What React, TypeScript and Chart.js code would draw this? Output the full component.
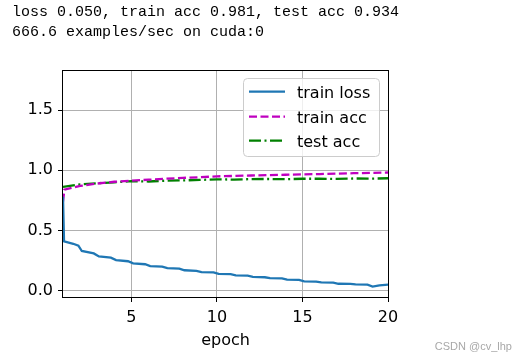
import React, { useEffect, useRef } from "react";
import { Chart, registerables } from "chart.js";

Chart.register(...registerables);

const headerLines = [
  "loss 0.050, train acc 0.981, test acc 0.934",
  "666.6 examples/sec on cuda:0",
];
const watermark = "CSDN @cv_lhp";
const xAxisTitle = "epoch";
const xTicks = [5, 10, 15, 20];
const yTicks = [0, 0.5, 1.0, 1.5];
const seriesLabels = ["train loss", "train acc", "test acc"];

const lossEpochs = [
  1.0, 1.06, 1.6, 1.9, 2.1, 2.8, 3.1, 3.8, 4.1, 4.8, 5.1, 5.8, 6.1, 6.8, 7.1, 7.8,
  8.1, 8.8, 9.1, 9.8, 10.1, 10.8, 11.1, 11.8, 12.1, 12.8, 13.1, 13.8, 14.1, 14.8,
  15.1, 15.8, 16.1, 16.8, 17.1, 17.8, 18.1, 18.8, 19.1, 19.5, 20.0,
];
const lossValues = [
  0.78, 0.41, 0.39, 0.375, 0.33, 0.31, 0.285, 0.275, 0.255, 0.245, 0.228, 0.22,
  0.205, 0.2, 0.188, 0.183, 0.17, 0.165, 0.155, 0.152, 0.14, 0.138, 0.128, 0.125,
  0.115, 0.112, 0.104, 0.102, 0.092, 0.09, 0.078, 0.076, 0.07, 0.068, 0.058, 0.057,
  0.052, 0.05, 0.035, 0.044, 0.05,
];

const trainAccEpochs = [
  1.0, 1.08, 2, 3, 4, 5, 6, 7, 8, 9, 10, 11, 12, 13, 14, 15, 16, 17, 18, 19, 20,
];
const trainAccValues = [
  0.74, 0.84, 0.87, 0.89, 0.905, 0.914, 0.922, 0.93, 0.937, 0.943, 0.95, 0.953,
  0.957, 0.96, 0.963, 0.966, 0.969, 0.972, 0.976, 0.979, 0.982,
];

const testAccEpochs = [
  1, 2, 3, 4, 5, 6, 7, 8, 9, 10, 11, 12, 13, 14, 15, 16, 17, 18, 19, 20,
];
const testAccValues = [
  0.862, 0.884, 0.893, 0.9, 0.91, 0.907, 0.914, 0.916, 0.92, 0.925, 0.923, 0.927,
  0.928, 0.926, 0.93, 0.93, 0.929, 0.932, 0.931, 0.934,
];

const FONT = "'DejaVu Sans', sans-serif";
const LW = 2.3;

const toPoints = (xs: number[], ys: number[]) => xs.map((x, i) => ({ x, y: ys[i] }));

const framePlugin = {
  id: "mplFrame",
  afterDraw(chart: any) {
    const ctx = chart.ctx as CanvasRenderingContext2D;
    const { left, right, top, bottom } = chart.chartArea;
    ctx.save();
    ctx.strokeStyle = "#000";
    ctx.lineWidth = 1;
    ctx.strokeRect(Math.round(left) - 0.5, Math.round(top) + 0.5, Math.round(right - left) + 1, Math.round(bottom - top));

    const bx = right - 144.5;
    const by = top + 8.5;
    const bw = 136;
    const bh = 78;
    ctx.beginPath();
    if ((ctx as any).roundRect) {
      (ctx as any).roundRect(bx, by, bw, bh, 4);
    } else {
      ctx.rect(bx, by, bw, bh);
    }
    ctx.fillStyle = "rgba(255,255,255,0.8)";
    ctx.fill();
    ctx.strokeStyle = "#cccccc";
    ctx.lineWidth = 1;
    ctx.stroke();

    const datasets = chart.data.datasets;
    const rowCenters = [top + 21.7, top + 46.7, top + 70.7];
    datasets.forEach((ds: any, i: number) => {
      const cy = rowCenters[i];
      ctx.save();
      ctx.beginPath();
      ctx.strokeStyle = ds.borderColor;
      ctx.lineWidth = ds.borderWidth;
      ctx.setLineDash(ds.borderDash || []);
      ctx.moveTo(right - 139, cy);
      ctx.lineTo(right - 103, cy);
      ctx.stroke();
      ctx.restore();
      ctx.fillStyle = "#000";
      ctx.font = `16px ${FONT}`;
      ctx.textBaseline = "alphabetic";
      ctx.textAlign = "left";
      ctx.fillText(ds.label, right - 91, cy + 6.6);
    });
    ctx.restore();
  },
};

export default function App() {
  const canvasRef = useRef<HTMLCanvasElement | null>(null);

  useEffect(() => {
    if (!canvasRef.current) return;
    const chart = new Chart(canvasRef.current, {
      type: "line",
      data: {
        datasets: [
          {
            label: seriesLabels[0],
            data: toPoints(lossEpochs, lossValues),
            borderColor: "#1f77b4",
            borderWidth: LW,
            pointRadius: 0,
            tension: 0,
          },
          {
            label: seriesLabels[1],
            data: toPoints(trainAccEpochs, trainAccValues),
            borderColor: "#bf00bf",
            borderWidth: LW,
            borderDash: [8, 3.5],
            pointRadius: 0,
            tension: 0,
          },
          {
            label: seriesLabels[2],
            data: toPoints(testAccEpochs, testAccValues),
            borderColor: "#008000",
            borderWidth: LW,
            borderDash: [12, 3.5, 2, 3.5],
            pointRadius: 0,
            tension: 0,
          },
        ],
      },
      options: {
        animation: false,
        responsive: false,
        devicePixelRatio: 1,
        layout: { padding: { left: 0, right: 140, top: 70, bottom: 0 } },
        plugins: {
          legend: { display: false },
          tooltip: { enabled: false },
          title: { display: false },
        },
        scales: {
          x: {
            type: "linear",
            min: 1,
            max: 20,
            afterBuildTicks: (scale: any) => {
              scale.ticks = xTicks.map((v) => ({ value: v }));
            },
            afterFit: (scale: any) => {
              scale.height = 64;
            },
            ticks: {
              color: "#000",
              font: { family: FONT, size: 16 },
              padding: 6,
              maxRotation: 0,
              autoSkip: false,
              callback: (v: any) => String(v),
            },
            grid: {
              color: "#b0b0b0",
              lineWidth: 1,
              tickColor: "#000",
              tickLength: 5,
              tickWidth: 1,
            },
            border: { display: false },
            title: {
              display: true,
              text: xAxisTitle,
              color: "#000",
              font: { family: FONT, size: 16 },
              padding: { top: 0, bottom: 11 },
            },
          },
          y: {
            type: "linear",
            min: -0.052,
            max: 1.833,
            afterBuildTicks: (scale: any) => {
              scale.ticks = yTicks.map((v) => ({ value: v }));
            },
            afterFit: (scale: any) => {
              scale.width = 63;
            },
            ticks: {
              color: "#000",
              font: { family: FONT, size: 16 },
              padding: 5,
              autoSkip: false,
              callback: (v: any) => Number(v).toFixed(1),
            },
            grid: {
              color: "#b0b0b0",
              lineWidth: 1,
              tickColor: "#000",
              tickLength: 5,
              tickWidth: 1,
            },
            border: { display: false },
          },
        },
      },
      plugins: [framePlugin],
    } as any);
    return () => chart.destroy();
  }, []);

  return (
    <div style={{ position: "absolute", left: 0, top: 0, width: 528, height: 361, background: "#fff", overflow: "hidden" }}>
      <canvas
        ref={canvasRef}
        width={528}
        height={361}
        style={{ position: "absolute", left: 0, top: 0, width: 528, height: 361 }}
      />
      <div
        style={{
          position: "absolute",
          left: 12,
          top: 3,
          fontFamily: "'Liberation Mono', monospace",
          fontSize: 15,
          lineHeight: "20px",
          whiteSpace: "pre",
          color: "#000",
        }}
      >
        {headerLines.map((l, i) => (
          <div key={i}>{l}</div>
        ))}
      </div>
      <div
        style={{
          position: "absolute",
          right: 16,
          top: 339,
          fontFamily: "'Liberation Sans', Arial, sans-serif",
          fontSize: 11,
          lineHeight: "15px",
          whiteSpace: "pre",
          color: "#a8a8a8",
        }}
      >
        {watermark}
      </div>
    </div>
  );
}
